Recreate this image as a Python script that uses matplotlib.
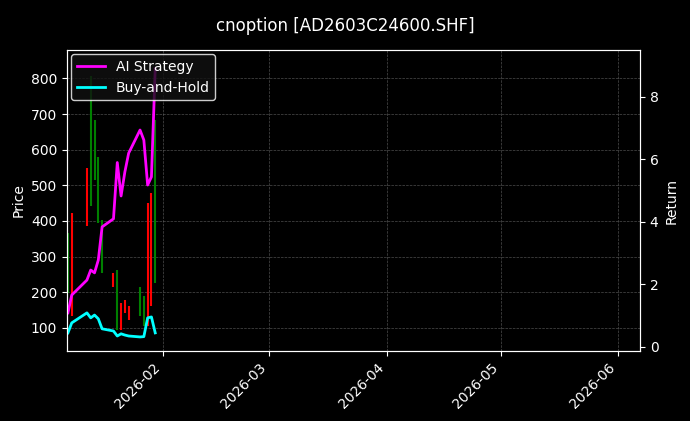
import matplotlib
matplotlib.use("Agg")
import matplotlib.pyplot as plt
import matplotlib.dates as mdates
import pandas as pd

dates = ["2026-01-07","2026-01-08","2026-01-12","2026-01-13","2026-01-14","2026-01-15",
         "2026-01-16","2026-01-19","2026-01-20","2026-01-21","2026-01-22","2026-01-23",
         "2026-01-26","2026-01-27","2026-01-28","2026-01-29","2026-01-30"]
candle_high = [366,422,549,806,684,581,403,254,263,169,179,160,216,188,450,478,684]
candle_low  = [197,132,385,441,516,394,254,216,94,94,141,122,132,104,104,160,226]
candle_up   = [False,True,True,False,False,False,False,True,False,True,True,True,False,False,True,True,False]
ai_strategy = [1.09,1.66,2.14,2.46,2.37,2.78,3.84,4.1,5.9,4.83,5.6,6.2,6.94,6.62,5.18,5.44,8.9]
buy_hold    = [0.45,0.77,1.09,0.93,1.02,0.9,0.58,0.51,0.35,0.42,0.38,0.35,0.32,0.33,0.93,0.96,0.45]

d = pd.to_datetime(dates)
fig = plt.figure(figsize=(6.9,4.21), dpi=100, facecolor="black")
ax = fig.add_axes([67/690, 1-351/421, 573/690, 301/421], facecolor="black")
for di, hi, lo, up in zip(d, candle_high, candle_low, candle_up):
    ax.vlines(di, lo, hi, color="red" if up else "green", lw=1.5)
ax.set_ylim(35, 880)
ax.set_xlim(pd.Timestamp("2026-01-06 18:00"), pd.Timestamp("2026-06-06 18:00"))
ax.set_ylabel("Price", color="white")
ax.grid(True, color="gray", ls="--", lw=0.5, alpha=0.6)
ax2 = ax.twinx()
ax2.plot(d, ai_strategy, color="magenta", lw=2, label="AI Strategy")
ax2.plot(d, buy_hold, color="cyan", lw=2, label="Buy-and-Hold")
ax2.set_ylim(-0.13, 9.5)
ax2.set_ylabel("Return", color="white")
for a in (ax, ax2):
    a.tick_params(colors="white")
    for s in a.spines.values():
        s.set_color("white")
ax.xaxis.set_major_locator(mdates.MonthLocator())
ax.xaxis.set_major_formatter(mdates.DateFormatter("%Y-%m"))
plt.setp(ax.get_xticklabels(), rotation=45, ha="right")
leg = ax2.legend(loc="upper left", facecolor="#111111", edgecolor="white",
                 labelcolor="white", borderaxespad=0.3)
fig.suptitle("cnoption [AD2603C24600.SHF]", color="white", y=0.96)
fig.savefig("out.png", facecolor="black")
